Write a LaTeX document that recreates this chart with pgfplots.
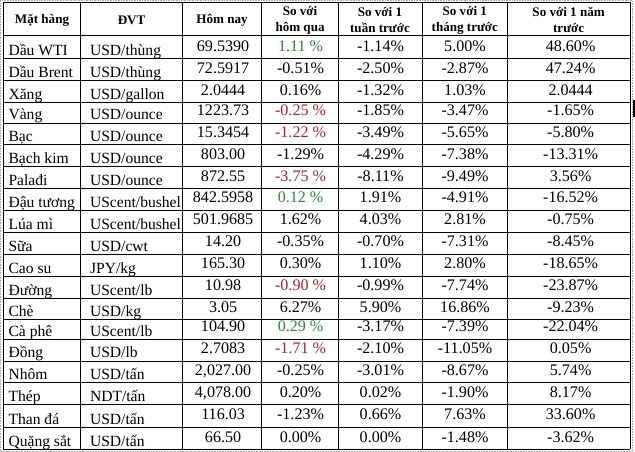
\documentclass[border=0pt]{standalone}
\usepackage{pgfplots}
\pgfplotsset{compat=1.18}
\usepackage{fontspec}
\setmainfont{Liberation Serif}
\definecolor{upgreen}{HTML}{2E8340}
\definecolor{downred}{HTML}{A3262B}
\newcommand{\bodyfont}{\fontsize{16}{18}\selectfont}
\newcommand{\namefont}{\fontsize{15.5}{18}\selectfont}
\newcommand{\headfont}{\fontsize{13}{16}\selectfont\bfseries}

\pgfplotsset{
  txt/.style={only marks, mark=none, point meta=explicit symbolic,
    nodes near coords, nodes near coords align={center},
    every node near coord/.append style={font=\bodyfont, text=black, inner sep=0pt, anchor=base}},
  txtleft/.style={txt, every node near coord/.append style={font=\namefont, anchor=base west}},
  head/.style={txt, every node near coord/.append style={font=\headfont, align=center, anchor=center}},
}

\begin{document}
\begin{tikzpicture}
\begin{axis}[
  scale only axis, width=635pt, height=454pt,
  xmin=0, xmax=635, ymin=0, ymax=454, y dir=reverse,
  hide axis, clip=false,
]
% outer dotted frame
\addplot[gray!70, densely dotted, line width=0.6pt] coordinates {(4,5)(632,5)(632,453)(4,453)(4,5)};
\addplot[black, line width=2pt] coordinates {(634,104)(634,121)};
% row rules
\pgfplotsinvokeforeach{7,40,63,85,106.5,127,148.5,170.5,192.5,213.5,235.5,257.5,279.3,301,322.5,342,363.5,385.3,407,429.3,451.5}{
  \addplot[black, line width=0.8pt] coordinates {(7,#1)(630,#1)};
}
% column rules
\pgfplotsinvokeforeach{7,84,185,264,340,423.3,508.3,630}{
  \addplot[black, line width=0.8pt] coordinates {(#1,7)(#1,451.5)};
}

% header
\addplot[head] coordinates {
  (45.5,25) [Mặt hàng] (134.5,25) [ĐVT] (224.5,25) [Hôm nay]
  (302,25) [So với\\hôm qua] (381.5,25) [So với 1\\tuần trước]
  (465.8,25) [So với 1\\tháng trước] (569,25) [So với 1 năm\\trước]
};

% Mặt hàng
\addplot[txtleft] coordinates {
  (12,60) [Dầu WTI] (12,82) [Dầu Brent] (12,103.5) [Xăng] (12,124) [Vàng]
  (12,145.5) [Bạc] (12,167.5) [Bạch kim] (12,189.5) [Palađi] (12,210.5) [Đậu tương]
  (12,232.5) [Lúa mì] (12,254.5) [Sữa] (12,276.3) [Cao su] (12,298) [Đường]
  (12,319.5) [Chè] (12,339) [Cà phê] (12,360.5) [Đồng] (12,382.3) [Nhôm]
  (12,404) [Thép] (12,426.3) [Than đá] (12,448.5) [Quặng sắt]
};
% ĐVT
\addplot[txtleft] coordinates {
  (93,60) [USD/thùng] (93,82) [USD/thùng] (93,103.5) [USD/gallon] (93,124) [USD/ounce]
  (93,145.5) [USD/ounce] (93,167.5) [USD/ounce] (93,189.5) [USD/ounce] (93,210.5) [UScent/bushel]
  (93,232.5) [UScent/bushel] (93,254.5) [USD/cwt] (93,276.3) [JPY/kg] (93,298) [UScent/lb]
  (93,319.5) [USD/kg] (93,339) [UScent/lb] (93,360.5) [USD/lb] (93,382.3) [USD/tấn]
  (93,404) [NDT/tấn] (93,426.3) [USD/tấn] (93,448.5) [USD/tấn]
};
% Hôm nay
\addplot[txt] coordinates {
  (225.5,55.7) [69.5390] (225.5,77.7) [72.5917] (225.5,99.2) [2.0444] (225.5,119.7) [1223.73]
  (225.5,141.2) [15.3454] (225.5,163.2) [803.00] (225.5,185.2) [872.55] (225.5,206.2) [842.5958]
  (225.5,228.2) [501.9685] (225.5,250.2) [14.20] (225.5,272) [165.30] (225.5,293.7) [10.98]
  (225.5,315.2) [3.05] (225.5,334.7) [104.90] (225.5,356.2) [2.7083] (225.5,378) [2,027.00]
  (225.5,399.7) [4,078.00] (225.5,422) [116.03] (225.5,444.2) [66.50]
};
% So với hôm qua
\addplot[txt] coordinates {
  (302.5,77.7) [-0.51\%] (302.5,99.2) [0.16\%] (302.5,163.2) [-1.29\%]
  (302.5,228.2) [1.62\%] (302.5,250.2) [-0.35\%] (302.5,272) [0.30\%]
  (302.5,315.2) [6.27\%] (302.5,378) [-0.25\%] (302.5,399.7) [0.20\%]
  (302.5,422) [-1.23\%] (302.5,444.2) [0.00\%]
};
\addplot[txt, every node near coord/.append style={text=upgreen}] coordinates {
  (302.5,55.7) [1.11 \%] (302.5,206.2) [0.12 \%] (302.5,334.7) [0.29 \%]
};
\addplot[txt, every node near coord/.append style={text=downred}] coordinates {
  (302.5,119.7) [-0.25 \%] (302.5,141.2) [-1.22 \%] (302.5,185.2) [-3.75 \%]
  (302.5,293.7) [-0.90 \%] (302.5,356.2) [-1.71 \%]
};
% So với 1 tuần trước
\addplot[txt] coordinates {
  (382,55.7) [-1.14\%] (382,77.7) [-2.50\%] (382,99.2) [-1.32\%] (382,119.7) [-1.85\%]
  (382,141.2) [-3.49\%] (382,163.2) [-4.29\%] (382,185.2) [-8.11\%] (382,206.2) [1.91\%]
  (382,228.2) [4.03\%] (382,250.2) [-0.70\%] (382,272) [1.10\%] (382,293.7) [-0.99\%]
  (382,315.2) [5.90\%] (382,334.7) [-3.17\%] (382,356.2) [-2.10\%] (382,378) [-3.01\%]
  (382,399.7) [0.02\%] (382,422) [0.66\%] (382,444.2) [0.00\%]
};
% So với 1 tháng trước
\addplot[txt] coordinates {
  (466,55.7) [5.00\%] (466,77.7) [-2.87\%] (466,99.2) [1.03\%] (466,119.7) [-3.47\%]
  (466,141.2) [-5.65\%] (466,163.2) [-7.38\%] (466,185.2) [-9.49\%] (466,206.2) [-4.91\%]
  (466,228.2) [2.81\%] (466,250.2) [-7.31\%] (466,272) [2.80\%] (466,293.7) [-7.74\%]
  (466,315.2) [16.86\%] (466,334.7) [-7.39\%] (466,356.2) [-11.05\%] (466,378) [-8.67\%]
  (466,399.7) [-1.90\%] (466,422) [7.63\%] (466,444.2) [-1.48\%]
};
% So với 1 năm trước
\addplot[txt] coordinates {
  (571,55.7) [48.60\%] (571,77.7) [47.24\%] (571,99.2) [2.0444] (571,119.7) [-1.65\%]
  (571,141.2) [-5.80\%] (571,163.2) [-13.31\%] (571,185.2) [3.56\%] (571,206.2) [-16.52\%]
  (571,228.2) [-0.75\%] (571,250.2) [-8.45\%] (571,272) [-18.65\%] (571,293.7) [-23.87\%]
  (571,315.2) [-9.23\%] (571,334.7) [-22.04\%] (571,356.2) [0.05\%] (571,378) [5.74\%]
  (571,399.7) [8.17\%] (571,422) [33.60\%] (571,444.2) [-3.62\%]
};
\end{axis}
\end{tikzpicture}
\end{document}
